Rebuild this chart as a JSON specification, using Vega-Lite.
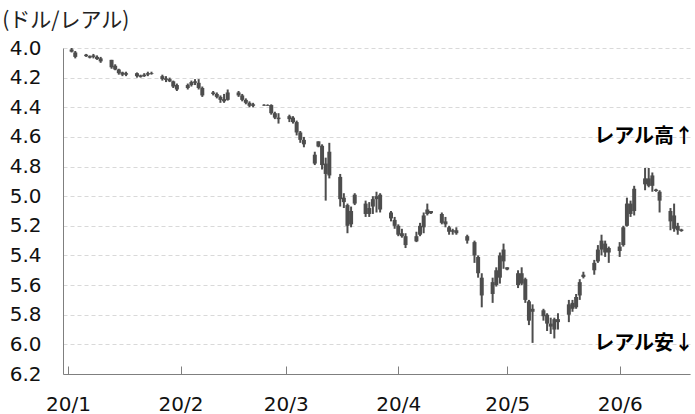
{
"$schema": "https://vega.github.io/schema/vega-lite/v6.json",
"width": 627, "height": 326,
"autosize": "none",
"padding": {"left": 63, "top": 48, "right": 5, "bottom": 40},
"background": "white",
"config": {"view": {"stroke": null}, "font": "DejaVu Sans",
"axisY": {"labelOverlap": false, "labelFontSize": 20, "labelFont": "DejaVu Sans", "labelColor": "#111", "labelPadding": 22, "ticks": false, "grid": true, "gridDash": [4, 3], "gridColor": "#d9d9d9", "domainColor": "#7f7f7f", "title": null},
"axisX": {"labelOverlap": false, "labelFontSize": 20, "labelFont": "DejaVu Sans", "labelColor": "#111", "labelPadding": 28, "tickSize": -8, "tickColor": "#7f7f7f", "domainColor": "#7f7f7f", "grid": false, "labelFlush": false, "title": null}
},
"title": {"text": "(ドル/レアル)", "anchor": "start", "frame": "bounds", "font": "Noto Sans CJK JP", "fontSize": 21, "fontWeight": "normal", "color": "#222", "offset": 7, "dx": -7},
"datasets": {
"fx": [
{"d":"2020-01-02","o":4.01,"h":4.03,"l":4.00,"c":4.025},
{"d":"2020-01-03","o":4.03,"h":4.07,"l":4.02,"c":4.06},
{"d":"2020-01-06","o":4.045,"h":4.06,"l":4.04,"c":4.055},
{"d":"2020-01-07","o":4.055,"h":4.07,"l":4.05,"c":4.065},
{"d":"2020-01-08","o":4.05,"h":4.07,"l":4.04,"c":4.06},
{"d":"2020-01-09","o":4.06,"h":4.08,"l":4.05,"c":4.075},
{"d":"2020-01-10","o":4.07,"h":4.10,"l":4.06,"c":4.09},
{"d":"2020-01-13","o":4.08,"h":4.14,"l":4.08,"c":4.13},
{"d":"2020-01-14","o":4.12,"h":4.15,"l":4.11,"c":4.145},
{"d":"2020-01-15","o":4.145,"h":4.18,"l":4.14,"c":4.17},
{"d":"2020-01-16","o":4.165,"h":4.19,"l":4.16,"c":4.18},
{"d":"2020-01-17","o":4.18,"h":4.19,"l":4.16,"c":4.17},
{"d":"2020-01-20","o":4.17,"h":4.20,"l":4.165,"c":4.19},
{"d":"2020-01-21","o":4.185,"h":4.20,"l":4.18,"c":4.195},
{"d":"2020-01-22","o":4.19,"h":4.195,"l":4.17,"c":4.18},
{"d":"2020-01-23","o":4.18,"h":4.19,"l":4.16,"c":4.17},
{"d":"2020-01-24","o":4.17,"h":4.18,"l":4.16,"c":4.175},
{"d":"2020-01-27","o":4.19,"h":4.22,"l":4.18,"c":4.21},
{"d":"2020-01-28","o":4.205,"h":4.23,"l":4.19,"c":4.215},
{"d":"2020-01-29","o":4.21,"h":4.23,"l":4.20,"c":4.225},
{"d":"2020-01-30","o":4.225,"h":4.27,"l":4.22,"c":4.26},
{"d":"2020-01-31","o":4.25,"h":4.29,"l":4.24,"c":4.28},
{"d":"2020-02-03","o":4.27,"h":4.28,"l":4.24,"c":4.25},
{"d":"2020-02-04","o":4.25,"h":4.26,"l":4.22,"c":4.23},
{"d":"2020-02-05","o":4.235,"h":4.25,"l":4.21,"c":4.225},
{"d":"2020-02-06","o":4.235,"h":4.28,"l":4.21,"c":4.27},
{"d":"2020-02-07","o":4.27,"h":4.33,"l":4.26,"c":4.32},
{"d":"2020-02-10","o":4.30,"h":4.32,"l":4.29,"c":4.31},
{"d":"2020-02-11","o":4.31,"h":4.34,"l":4.30,"c":4.33},
{"d":"2020-02-12","o":4.33,"h":4.37,"l":4.32,"c":4.35},
{"d":"2020-02-13","o":4.345,"h":4.37,"l":4.31,"c":4.36},
{"d":"2020-02-14","o":4.35,"h":4.355,"l":4.28,"c":4.30},
{"d":"2020-02-17","o":4.30,"h":4.33,"l":4.29,"c":4.32},
{"d":"2020-02-18","o":4.32,"h":4.36,"l":4.31,"c":4.35},
{"d":"2020-02-19","o":4.35,"h":4.38,"l":4.34,"c":4.37},
{"d":"2020-02-20","o":4.37,"h":4.40,"l":4.36,"c":4.39},
{"d":"2020-02-21","o":4.38,"h":4.40,"l":4.37,"c":4.39},
{"d":"2020-02-24","o":4.383,"h":4.39,"l":4.38,"c":4.388},
{"d":"2020-02-25","o":4.385,"h":4.39,"l":4.38,"c":4.39},
{"d":"2020-02-26","o":4.385,"h":4.45,"l":4.38,"c":4.44},
{"d":"2020-02-27","o":4.44,"h":4.48,"l":4.43,"c":4.47},
{"d":"2020-02-28","o":4.47,"h":4.51,"l":4.44,"c":4.48},
{"d":"2020-03-02","o":4.48,"h":4.50,"l":4.45,"c":4.46},
{"d":"2020-03-03","o":4.47,"h":4.51,"l":4.46,"c":4.50},
{"d":"2020-03-04","o":4.50,"h":4.59,"l":4.49,"c":4.57},
{"d":"2020-03-05","o":4.57,"h":4.64,"l":4.56,"c":4.62},
{"d":"2020-03-06","o":4.62,"h":4.67,"l":4.60,"c":4.65},
{"d":"2020-03-09","o":4.78,"h":4.79,"l":4.70,"c":4.72},
{"d":"2020-03-10","o":4.63,"h":4.67,"l":4.63,"c":4.665},
{"d":"2020-03-11","o":4.66,"h":4.82,"l":4.65,"c":4.79},
{"d":"2020-03-12","o":4.78,"h":5.03,"l":4.74,"c":4.85},
{"d":"2020-03-13","o":4.86,"h":4.88,"l":4.64,"c":4.70},
{"d":"2020-03-16","o":4.87,"h":5.07,"l":4.85,"c":5.02},
{"d":"2020-03-17","o":5.01,"h":5.08,"l":4.98,"c":5.04},
{"d":"2020-03-18","o":5.06,"h":5.25,"l":5.05,"c":5.20},
{"d":"2020-03-19","o":5.19,"h":5.21,"l":5.07,"c":5.10},
{"d":"2020-03-20","o":4.99,"h":5.06,"l":4.98,"c":5.05},
{"d":"2020-03-23","o":5.05,"h":5.14,"l":5.03,"c":5.12},
{"d":"2020-03-24","o":5.12,"h":5.14,"l":5.04,"c":5.08},
{"d":"2020-03-25","o":5.07,"h":5.12,"l":5.00,"c":5.02},
{"d":"2020-03-26","o":5.02,"h":5.11,"l":4.97,"c":5.00},
{"d":"2020-03-27","o":4.99,"h":5.11,"l":4.98,"c":5.09},
{"d":"2020-03-30","o":5.11,"h":5.17,"l":5.10,"c":5.15},
{"d":"2020-03-31","o":5.16,"h":5.22,"l":5.14,"c":5.20},
{"d":"2020-04-01","o":5.20,"h":5.27,"l":5.19,"c":5.26},
{"d":"2020-04-02","o":5.25,"h":5.28,"l":5.22,"c":5.27},
{"d":"2020-04-03","o":5.27,"h":5.35,"l":5.25,"c":5.33},
{"d":"2020-04-06","o":5.305,"h":5.31,"l":5.24,"c":5.27},
{"d":"2020-04-07","o":5.26,"h":5.27,"l":5.18,"c":5.20},
{"d":"2020-04-08","o":5.21,"h":5.25,"l":5.11,"c":5.13},
{"d":"2020-04-09","o":5.12,"h":5.13,"l":5.05,"c":5.09},
{"d":"2020-04-10","o":5.10,"h":5.12,"l":5.10,"c":5.115},
{"d":"2020-04-13","o":5.12,"h":5.19,"l":5.11,"c":5.18},
{"d":"2020-04-14","o":5.17,"h":5.21,"l":5.14,"c":5.19},
{"d":"2020-04-15","o":5.21,"h":5.26,"l":5.20,"c":5.24},
{"d":"2020-04-16","o":5.24,"h":5.26,"l":5.22,"c":5.23},
{"d":"2020-04-17","o":5.23,"h":5.26,"l":5.21,"c":5.25},
{"d":"2020-04-20","o":5.27,"h":5.32,"l":5.26,"c":5.30},
{"d":"2020-04-22","o":5.31,"h":5.45,"l":5.30,"c":5.40},
{"d":"2020-04-23","o":5.41,"h":5.55,"l":5.40,"c":5.52},
{"d":"2020-04-24","o":5.55,"h":5.75,"l":5.52,"c":5.67},
{"d":"2020-04-27","o":5.66,"h":5.72,"l":5.55,"c":5.58},
{"d":"2020-04-28","o":5.60,"h":5.61,"l":5.48,"c":5.50},
{"d":"2020-04-29","o":5.55,"h":5.59,"l":5.38,"c":5.40},
{"d":"2020-04-30","o":5.36,"h":5.49,"l":5.32,"c":5.44},
{"d":"2020-05-01","o":5.48,"h":5.50,"l":5.48,"c":5.495},
{"d":"2020-05-04","o":5.52,"h":5.62,"l":5.50,"c":5.60},
{"d":"2020-05-05","o":5.59,"h":5.60,"l":5.48,"c":5.52},
{"d":"2020-05-06","o":5.56,"h":5.72,"l":5.55,"c":5.70},
{"d":"2020-05-07","o":5.71,"h":5.87,"l":5.70,"c":5.84},
{"d":"2020-05-08","o":5.78,"h":5.99,"l":5.73,"c":5.76},
{"d":"2020-05-11","o":5.77,"h":5.84,"l":5.76,"c":5.81},
{"d":"2020-05-12","o":5.80,"h":5.91,"l":5.79,"c":5.86},
{"d":"2020-05-13","o":5.86,"h":5.93,"l":5.82,"c":5.88},
{"d":"2020-05-14","o":5.90,"h":5.96,"l":5.82,"c":5.83},
{"d":"2020-05-15","o":5.83,"h":5.90,"l":5.79,"c":5.85},
{"d":"2020-05-18","o":5.80,"h":5.85,"l":5.70,"c":5.73},
{"d":"2020-05-19","o":5.72,"h":5.78,"l":5.70,"c":5.76},
{"d":"2020-05-20","o":5.75,"h":5.76,"l":5.66,"c":5.68},
{"d":"2020-05-21","o":5.67,"h":5.70,"l":5.56,"c":5.58},
{"d":"2020-05-22","o":5.545,"h":5.555,"l":5.51,"c":5.53},
{"d":"2020-05-25","o":5.50,"h":5.53,"l":5.43,"c":5.45},
{"d":"2020-05-26","o":5.44,"h":5.45,"l":5.33,"c":5.36},
{"d":"2020-05-27","o":5.36,"h":5.40,"l":5.26,"c":5.30},
{"d":"2020-05-28","o":5.32,"h":5.41,"l":5.30,"c":5.38},
{"d":"2020-05-29","o":5.38,"h":5.45,"l":5.34,"c":5.35},
{"d":"2020-06-01","o":5.34,"h":5.41,"l":5.31,"c":5.37},
{"d":"2020-06-02","o":5.33,"h":5.34,"l":5.20,"c":5.21},
{"d":"2020-06-03","o":5.20,"h":5.205,"l":5.01,"c":5.05},
{"d":"2020-06-04","o":5.05,"h":5.14,"l":5.03,"c":5.12},
{"d":"2020-06-05","o":5.10,"h":5.13,"l":4.93,"c":4.95},
{"d":"2020-06-08","o":4.92,"h":4.96,"l":4.81,"c":4.88},
{"d":"2020-06-09","o":4.88,"h":4.94,"l":4.81,"c":4.93},
{"d":"2020-06-10","o":4.93,"h":4.97,"l":4.84,"c":4.86},
{"d":"2020-06-11","o":4.955,"h":4.97,"l":4.95,"c":4.965},
{"d":"2020-06-12","o":4.97,"h":5.11,"l":4.96,"c":5.03},
{"d":"2020-06-15","o":5.10,"h":5.23,"l":5.08,"c":5.17},
{"d":"2020-06-16","o":5.13,"h":5.24,"l":5.05,"c":5.22},
{"d":"2020-06-17","o":5.20,"h":5.26,"l":5.18,"c":5.23},
{"d":"2020-06-18","o":5.225,"h":5.24,"l":5.22,"c":5.235}
],
"notes": [
{"d":"2020-06-19","v":4.6,"t":"レアル高↑"},
{"d":"2020-06-19","v":6.0,"t":"レアル安↓"}
]
},
"layer": [
{
"data": {"name": "fx"},
"mark": {"type": "rule", "color": "#4d4d4d", "strokeWidth": 2},
"encoding": {
"x": {"field": "d", "type": "temporal",
"scale": {"type": "utc", "domain": [{"year": 2020, "month": 1, "date": 1, "utc": true}, {"year": 2020, "month": 6, "date": 19, "utc": true}]},
"axis": {"format": "%y/%-m", "tickCount": {"interval": "month", "step": 1}}},
"y": {"field": "l", "type": "quantitative",
"scale": {"domain": [4.0, 6.2], "reverse": true, "nice": false, "zero": false},
"axis": {"values": [4.0, 4.2, 4.4, 4.6, 4.8, 5.0, 5.2, 5.4, 5.6, 5.8, 6.0, 6.2], "format": ".1f"}},
"y2": {"field": "h"}
}
},
{
"data": {"name": "fx"},
"mark": {"type": "bar", "color": "#4d4d4d", "width": 4},
"encoding": {
"x": {"field": "d", "type": "temporal", "axis": {"format": "%y/%-m", "tickCount": {"interval": "month", "step": 1}}},
"y": {"field": "o", "type": "quantitative", "axis": {"values": [4.0, 4.2, 4.4, 4.6, 4.8, 5.0, 5.2, 5.4, 5.6, 5.8, 6.0, 6.2], "format": ".1f"}},
"y2": {"field": "c"}
}
},
{
"data": {"name": "notes"},
"mark": {"type": "text", "align": "right", "baseline": "middle", "font": "Noto Sans CJK JP", "fontSize": 20, "fontWeight": "bold", "color": "#000", "dx": 9},
"encoding": {
"x": {"field": "d", "type": "temporal", "axis": {"format": "%y/%-m", "tickCount": {"interval": "month", "step": 1}}},
"y": {"field": "v", "type": "quantitative", "axis": {"values": [4.0, 4.2, 4.4, 4.6, 4.8, 5.0, 5.2, 5.4, 5.6, 5.8, 6.0, 6.2], "format": ".1f"}},
"text": {"field": "t"}
}
}
]
}
